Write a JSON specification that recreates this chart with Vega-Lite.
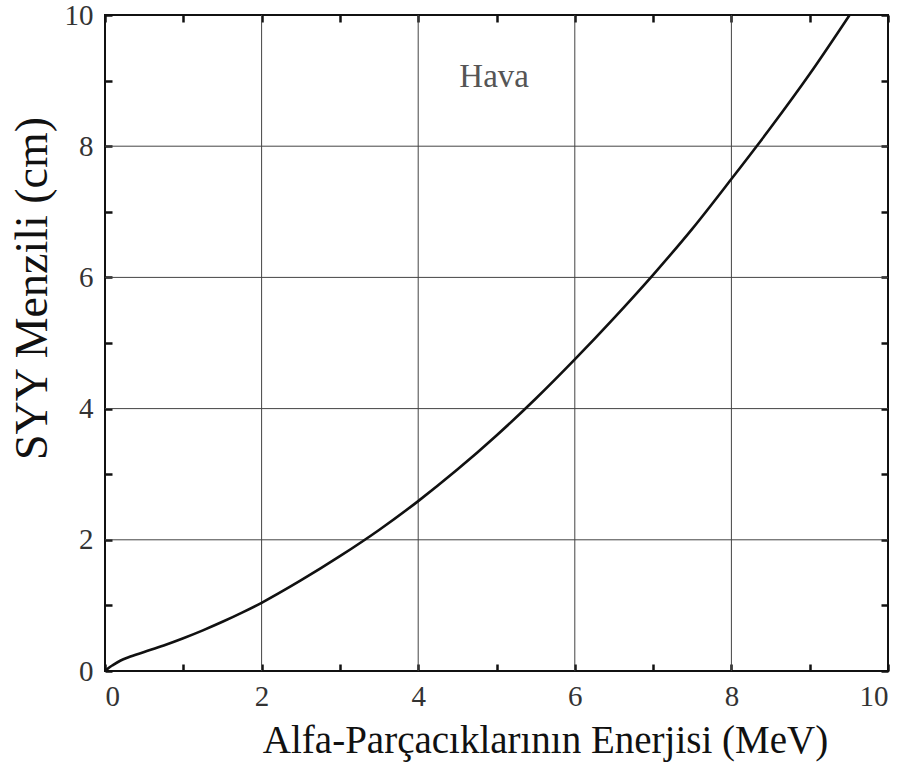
{
  "$schema": "https://vega.github.io/schema/vega-lite/v6.json",
  "width": 783,
  "height": 656,
  "autosize": "none",
  "padding": {"left": 105, "top": 15, "right": 22, "bottom": 91},
  "background": "white",
  "config": {
    "view": {"stroke": "#111", "strokeWidth": 2},
    "font": "Liberation Serif",
    "axis": {"labelFont": "Liberation Serif", "titleFont": "Liberation Serif"},
    "text": {"font": "Liberation Serif"}
  },
  "datasets": {
    "range": [
      {"energy": 0, "range": 0},
      {"energy": 0.05, "range": 0.05},
      {"energy": 0.1, "range": 0.09},
      {"energy": 0.2, "range": 0.16},
      {"energy": 0.3, "range": 0.21},
      {"energy": 0.5, "range": 0.29},
      {"energy": 0.75, "range": 0.39},
      {"energy": 1, "range": 0.5},
      {"energy": 1.25, "range": 0.62},
      {"energy": 1.5, "range": 0.75},
      {"energy": 1.75, "range": 0.89},
      {"energy": 2, "range": 1.04},
      {"energy": 2.5, "range": 1.38},
      {"energy": 3, "range": 1.75},
      {"energy": 3.5, "range": 2.15},
      {"energy": 4, "range": 2.59},
      {"energy": 4.5, "range": 3.07},
      {"energy": 5, "range": 3.59},
      {"energy": 5.5, "range": 4.15},
      {"energy": 6, "range": 4.75},
      {"energy": 6.5, "range": 5.38},
      {"energy": 7, "range": 6.04},
      {"energy": 7.5, "range": 6.74},
      {"energy": 8, "range": 7.5},
      {"energy": 8.5, "range": 8.28},
      {"energy": 9, "range": 9.1},
      {"energy": 9.51, "range": 10}
    ],
    "grid": [{"v": 2}, {"v": 4}, {"v": 6}, {"v": 8}],
    "note": [{"energy": 4.97, "range": 9.05, "label": "Hava"}]
  },
  "resolve": {"axis": {"x": "independent", "y": "independent"}},
  "layer": [
    {
      "data": {"name": "grid"},
      "mark": {"type": "rule", "color": "#444", "strokeWidth": 1},
      "encoding": {
        "x": {
          "field": "v", "type": "quantitative",
          "scale": {"domain": [0, 10], "nice": false, "zero": false},
          "axis": {
            "orient": "bottom", "values": [0,1,2,3,4,5,6,7,8,9,10],
            "tickSize": -7, "tickColor": "#111", "tickWidth": 2.5,
            "domain": false, "grid": false,
            "labelExpr": "datum.value % 2 == 0 ? datum.label : ''",
            "labelFontSize": 29, "labelColor": "#333", "labelPadding": 18,
            "labelFont": "Liberation Serif",
            "title": "Alfa-Parçacıklarının Enerjisi (MeV)",
            "titleFont": "Liberation Serif", "titleFontSize": 39,
            "titleFontWeight": "normal", "titleColor": "#111", "titlePadding": 10,
            "titleX": 440, "titleAlign": "center"
          }
        }
      }
    },
    {
      "data": {"name": "grid"},
      "mark": {"type": "rule", "color": "#444", "strokeWidth": 1},
      "encoding": {
        "y": {
          "field": "v", "type": "quantitative",
          "scale": {"domain": [0, 10], "nice": false, "zero": false},
          "axis": {
            "orient": "left", "values": [0,1,2,3,4,5,6,7,8,9,10],
            "tickSize": -7, "tickColor": "#111", "tickWidth": 2.5,
            "domain": false, "grid": false,
            "labelExpr": "datum.value % 2 == 0 ? datum.label : ''",
            "labelFontSize": 29, "labelColor": "#333", "labelPadding": 19,
            "labelFont": "Liberation Serif",
            "title": "SYY Menzili (cm)",
            "titleFont": "Liberation Serif", "titleFontSize": 46,
            "titleFontWeight": "normal", "titleColor": "#111", "titlePadding": 8,
            "titleY": 273, "titleAlign": "center"
          }
        }
      }
    },
    {
      "data": {"name": "range"},
      "mark": {"type": "line", "color": "#111", "strokeWidth": 2.6, "interpolate": "monotone", "clip": true},
      "encoding": {
        "x": {
          "field": "energy", "type": "quantitative",
          "scale": {"domain": [0, 10], "nice": false, "zero": false},
          "axis": {
            "orient": "top", "values": [0,1,2,3,4,5,6,7,8,9,10],
            "tickSize": -7, "tickColor": "#111", "tickWidth": 2.5,
            "domain": false, "grid": false, "labels": false, "title": null
          }
        },
        "y": {
          "field": "range", "type": "quantitative",
          "scale": {"domain": [0, 10], "nice": false, "zero": false},
          "axis": {
            "orient": "right", "values": [0,1,2,3,4,5,6,7,8,9,10],
            "tickSize": -7, "tickColor": "#111", "tickWidth": 2.5,
            "domain": false, "grid": false, "labels": false, "title": null
          }
        }
      }
    },
    {
      "data": {"name": "note"},
      "mark": {"type": "text", "font": "Liberation Serif", "fontSize": 33, "color": "#555"},
      "encoding": {
        "x": {"field": "energy", "type": "quantitative", "axis": null},
        "y": {"field": "range", "type": "quantitative", "axis": null},
        "text": {"field": "label"}
      }
    }
  ]
}
